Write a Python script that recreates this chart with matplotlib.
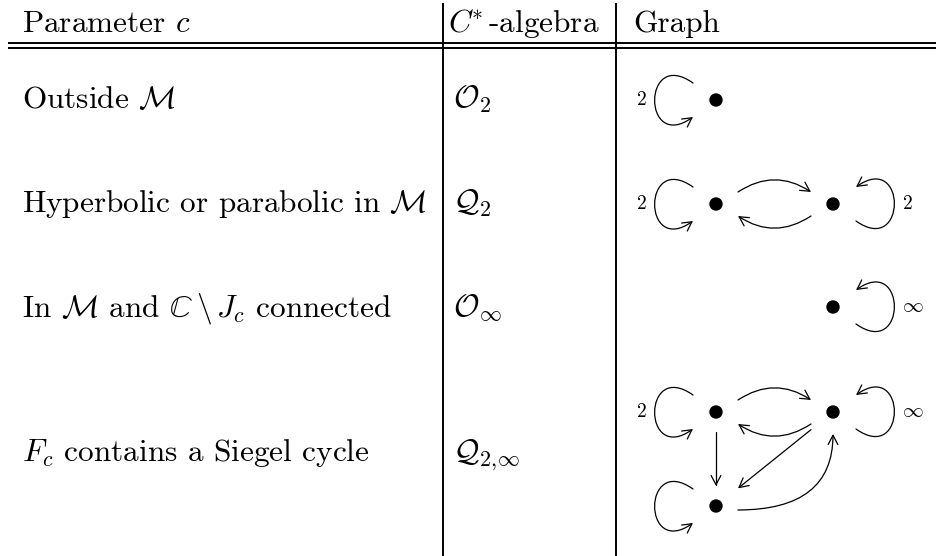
import matplotlib
matplotlib.use('Agg')
import matplotlib.pyplot as plt
from matplotlib.path import Path
from matplotlib.patches import FancyArrowPatch, Circle

plt.rcParams['font.family'] = 'cmr10'
plt.rcParams['mathtext.fontset'] = 'cm'
plt.rcParams['axes.unicode_minus'] = False

# table content
headers = ['Parameter $c$', '$C^{\\!\\!*}$-algebra', 'Graph']
params = ['Outside $\\mathcal{M}$',
          'Hyperbolic or parabolic in $\\mathcal{M}$',
          'In $\\mathcal{M}$ and $\\mathbb{C}\\,\\backslash\\, J_c$ connected',
          '$F_c$ contains a Siegel cycle']
algebras = ['$\\mathcal{O}_2$', '$\\mathcal{Q}_2$',
            '$\\mathcal{O}_\\infty$', '$\\mathcal{Q}_{2,\\!\\infty}$']

# graphs: vertices on a grid (column, row), loops (vertex, side, label), edges
graph_nodes = [
    {'a': (0, 0)},
    {'a': (0, 0), 'b': (1, 0)},
    {'b': (1, 0)},
    {'a': (0, 0), 'b': (1, 0), 'c': (0, 1)},
]
graph_loops = [
    [('a', 'left', '2')],
    [('a', 'left', '2'), ('b', 'right', '2')],
    [('b', 'right', '\\infty')],
    [('a', 'left', '2'), ('b', 'right', '\\infty'), ('c', 'left', '')],
]
graph_edges = [
    [],
    [('a', 'b', 'over'), ('b', 'a', 'under')],
    [],
    [('a', 'b', 'over'), ('b', 'a', 'under'), ('a', 'c', 'line'),
     ('b', 'c', 'line'), ('c', 'b', 'corner')],
]

W, H = 936, 556
row_y = [100, 204, 307, 412]      # y of first graph row in each table row
text_y = [108, 212, 316, 461]     # text baselines
col_x = [22, 453, 633]
vline_x = [443, 616]
gx0, gdx, gdy = 716, 117, 94      # graph grid
hw, hh = 22, 20                   # node box half sizes
FS = 22.5

fig = plt.figure(figsize=(W / 100, H / 100), dpi=100)
ax = fig.add_axes([0, 0, 1, 1])
ax.set_xlim(0, W)
ax.set_ylim(H, 0)
ax.axis('off')

# rules
for y in [42.5, 48]:
    ax.plot([8, W], [y, y], color='black', lw=1.4, solid_capstyle='butt')
for x in vline_x:
    ax.plot([x, x], [3, H], color='black', lw=1.4, solid_capstyle='butt')

# header
ax.text(col_x[0], 31.5, headers[0], fontsize=FS, va='baseline')
ax.text(448, 31.5, headers[1], fontsize=FS, va='baseline')
ax.text(col_x[2], 31.5, headers[2], fontsize=FS, va='baseline')

for i in range(len(params)):
    ax.text(col_x[0], text_y[i], params[i], fontsize=FS, va='baseline')
    ax.text(col_x[1], text_y[i], algebras[i], fontsize=FS, va='baseline')


def arrow(verts, codes):
    p = FancyArrowPatch(path=Path(verts, codes),
                        arrowstyle='->,head_length=0.6,head_width=0.32',
                        mutation_scale=11, lw=0.9, color='black')
    ax.add_patch(p)


C4 = [Path.MOVETO, Path.CURVE4, Path.CURVE4, Path.CURVE4]
C3 = [Path.MOVETO, Path.CURVE3, Path.CURVE3]

for i in range(len(graph_nodes)):
    pos = {k: (gx0 + c * gdx, row_y[i] + r * gdy)
           for k, (c, r) in graph_nodes[i].items()}
    for k, (x, y) in pos.items():
        ax.add_patch(Circle((x, y), 6, color='black'))
    for k, side, lab in graph_loops[i]:
        x, y = pos[k]
        s = -1 if side == 'left' else 1
        # counterclockwise on screen: left loops end at the bottom, right loops at the top
        arrow([(x + s * 23, y + s * 17), (x + s * 74, y + s * 53),
               (x + s * 74, y - s * 53), (x + s * 23, y - s * 17)], C4)
        if lab:
            ax.text(x + s * 69, y, '$' + lab + '$', fontsize=15 if lab != '2' else 14,
                    ha='right' if s < 0 else 'left', va='center')
    for a, b, kind in graph_edges[i]:
        (x0, y0), (x1, y1) = pos[a], pos[b]
        if kind in ('over', 'under'):
            d = 1 if x1 > x0 else -1
            s = -1 if kind == 'over' else 1
            arrow([(x0 + d * hw, y0 + s * 12), ((x0 + x1) / 2, y0 + s * 36),
                   (x1 - d * hw, y1 + s * 12)], C3)
        elif kind == 'line':
            dx, dy = x1 - x0, y1 - y0
            L = (dx ** 2 + dy ** 2) ** 0.5
            ux, uy = dx / L, dy / L
            t = min(hw / abs(ux) if ux else 1e9, hh / abs(uy) if uy else 1e9)
            arrow([(x0 + t * ux, y0 + t * uy), (x1 - t * ux, y1 - t * uy)],
                  [Path.MOVETO, Path.LINETO])
        else:
            arrow([(x0 + hw, y0 + 4), (x1, y0 + 4), (x1, y1 + hw)], C3)

fig.savefig('out.png', dpi=100)
